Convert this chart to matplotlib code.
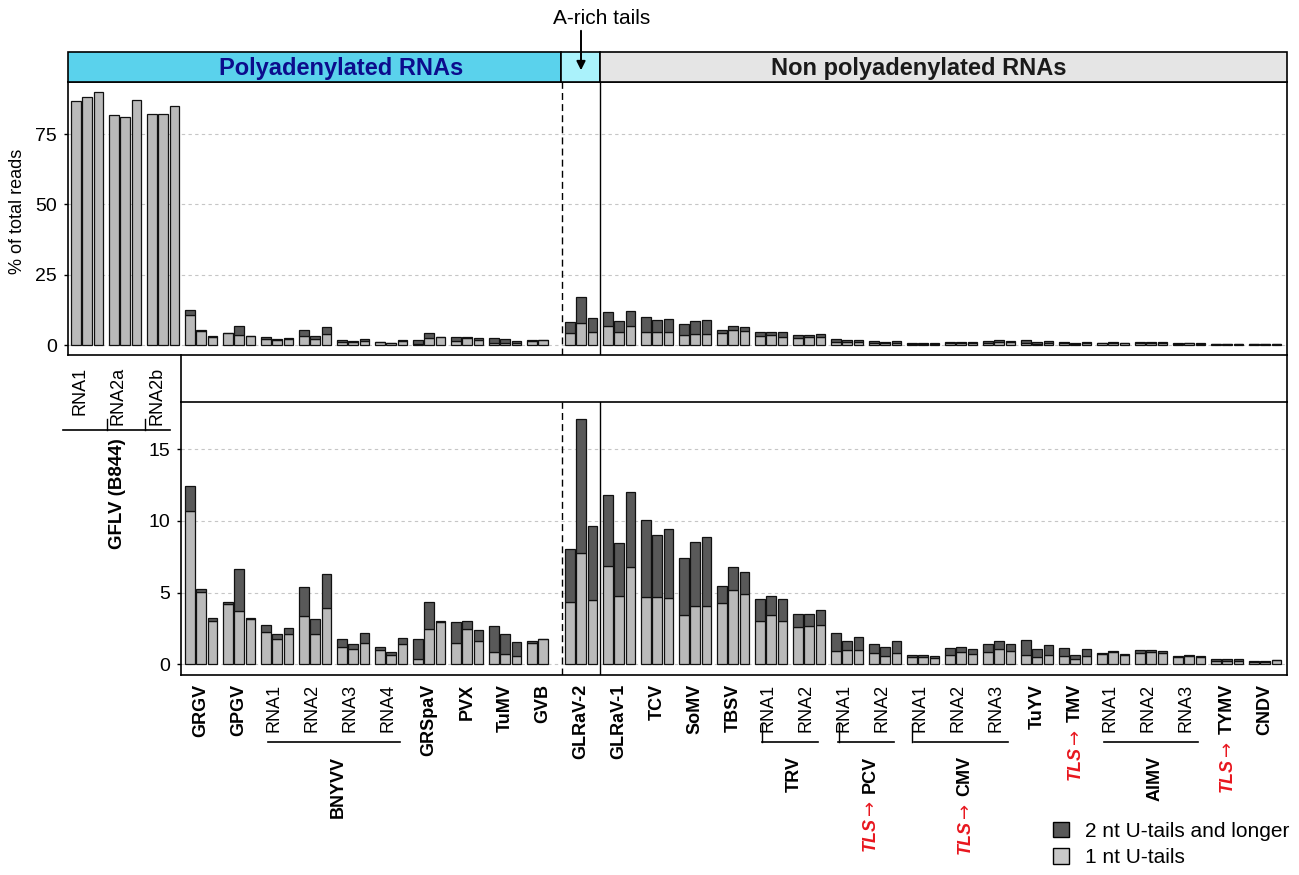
import numpy as np
import matplotlib
matplotlib.use('Agg')
import matplotlib.pyplot as plt
from matplotlib.patches import Rectangle, Patch, FancyArrowPatch
from matplotlib.lines import Line2D

plt.rcParams['font.family'] = ['Liberation Sans', 'DejaVu Sans']

# ---------------- data ----------------
# GFLV (B844) RNAs: total % of reads (shown only in top panel)
gflv_labels = ['RNA1', 'RNA2a', 'RNA2b']
gflv_reads = [[86.8, 88.0, 89.9],
              [81.7, 81.2, 87.1],
              [82.0, 82.2, 84.9]]

virus_labels = ['GRGV', 'GPGV', 'RNA1', 'RNA2', 'RNA3', 'RNA4', 'GRSpaV', 'PVX',
                'TuMV', 'GVB', 'GLRaV-2', 'GLRaV-1', 'TCV', 'SoMV', 'TBSV',
                'RNA1', 'RNA2', 'RNA1', 'RNA2', 'RNA1', 'RNA2', 'RNA3', 'TuYV',
                'TMV', 'RNA1', 'RNA2', 'RNA3', 'TYMV', 'CNDV']

# 1 nt U-tails (% of total reads), three replicates
one_nt = [[10.72, 5.07, 3.00], [4.23, 3.72, 3.16],
          [2.23, 1.74, 2.12], [3.37, 2.12, 3.93], [1.23, 1.05, 1.49], [0.98, 0.65, 1.44],
          [0.40, 2.49, 2.95], [1.51, 2.49, 1.63], [0.86, 0.72, 0.60], [1.47, 1.76, np.nan],
          [4.35, 7.79, 4.51], [6.84, 4.79, 6.79], [4.72, 4.67, 4.60], [3.44, 4.05, 4.05],
          [4.26, 5.21, 4.88], [3.05, 3.42, 3.02], [2.60, 2.70, 2.74], [0.95, 1.00, 0.98],
          [0.77, 0.60, 0.79], [0.51, 0.51, 0.45], [0.67, 0.84, 0.74], [0.88, 1.07, 0.93],
          [0.67, 0.49, 0.63], [0.60, 0.37, 0.56], [0.72, 0.84, 0.67], [0.81, 0.88, 0.77],
          [0.51, 0.56, 0.51], [0.21, 0.23, 0.21], [0.19, 0.19, 0.27]]

# 2 nt U-tails and longer (% of total reads)
two_nt = [[1.70, 0.16, 0.21], [0.14, 2.91, 0.05],
          [0.49, 0.35, 0.39], [2.00, 1.02, 2.35], [0.51, 0.35, 0.67], [0.25, 0.19, 0.40],
          [1.37, 1.86, 0.05], [1.42, 0.51, 0.74], [1.79, 1.37, 0.93], [0.18, 0.03, np.nan],
          [3.70, 9.33, 5.14], [4.95, 3.65, 5.23], [5.37, 4.38, 4.82], [3.98, 4.48, 4.83],
          [1.23, 1.56, 1.54], [1.48, 1.35, 1.51], [0.89, 0.79, 1.03], [1.24, 0.63, 0.90],
          [0.67, 0.59, 0.81], [0.16, 0.16, 0.15], [0.45, 0.37, 0.31], [0.52, 0.58, 0.51],
          [1.03, 0.58, 0.72], [0.54, 0.28, 0.49], [0.09, 0.07, 0.07], [0.17, 0.12, 0.16],
          [0.07, 0.07, 0.07], [0.16, 0.17, 0.16], [0.02, 0.02, 0.03]]

# bracket groups: (name, first index, last index, TLS)
brackets = [('BNYVV', 2, 5, False), ('TRV', 15, 16, False), ('PCV', 17, 18, True),
            ('CMV', 19, 21, True), ('AlMV', 24, 26, False)]
tls_single = ['TMV', 'TYMV']

# ---------------- style ----------------
LIGHT = '#bababa'
DARK = '#595959'
EDGE = '#111111'
TLS_RED = '#e8161e'
W, H = 1299, 875


def fx(px):
    return px / W


def fy(py):
    return 1 - py / H


fig = plt.figure(figsize=(W / 100, H / 100), dpi=100)
axT = fig.add_axes([fx(68), fy(355), fx(1287) - fx(68), fy(82) - fy(355)])
axB = fig.add_axes([fx(181), fy(675), fx(1287) - fx(181), fy(402) - fy(675)])

offs = np.array([-0.297, 0.0, 0.297])
bw = 0.255
ngflv = len(gflv_labels)
one = np.array(one_nt)
two = np.array(two_nt)
xpos = (np.arange(len(virus_labels))[:, None] + ngflv + offs[None, :])
xg = (np.arange(ngflv)[:, None] + offs[None, :])

for ax in (axT, axB):
    ax.bar(xpos.ravel(), one.ravel(), width=bw, color=LIGHT, edgecolor=EDGE, lw=0.9, zorder=3)
    ax.bar(xpos.ravel(), two.ravel(), bottom=one.ravel(), width=bw, color=DARK,
           edgecolor=EDGE, lw=0.9, zorder=3)
    ax.set_axisbelow(True)
    ax.yaxis.grid(True, ls=(0, (3, 3)), color='#c6c6c6', lw=0.8)
    ax.set_xticks([])
    ax.axvline(ngflv + 9.5, color='k', lw=1.0, ls=(0, (5, 3)), zorder=4)
    ax.axvline(ngflv + 10.5, color='k', lw=1.0, zorder=4)
    for s in ax.spines.values():
        s.set_linewidth(1.2)
    ax.tick_params(axis='y', direction='out', length=3, width=1, labelsize=14, pad=5)

axT.bar(xg.ravel(), np.array(gflv_reads).ravel(), width=bw, color=LIGHT,
        edgecolor=EDGE, lw=0.9, zorder=3)

axT.set_xlim(-0.505, 31.574)
axT.set_ylim(-3.55, 93.5)
axT.set_yticks([0, 25, 50, 75])
axB.set_xlim(2.468, 31.574)
axB.set_ylim(-0.747, 18.3)
axB.set_yticks([0, 5, 10, 15])

fig.text(fx(18), fy(211), '% of total reads', rotation=90, ha='center', va='center', fontsize=13)

# ---------------- header ----------------
hdr = [(68, 561, '#5ad2ec'), (561, 600, '#aaf2fb'), (600, 1287, '#e5e5e5')]
for x0, x1, c in hdr:
    fig.add_artist(Rectangle((fx(x0), fy(82)), fx(x1) - fx(x0), fy(52) - fy(82),
                             transform=fig.transFigure, fc=c, ec='k', lw=1.2))
fig.text(fx(341), fy(68), 'Polyadenylated RNAs', ha='center', va='center',
         fontsize=17, weight='bold', color='#0c0c8c')
fig.text(fx(919), fy(68), 'Non polyadenylated RNAs', ha='center', va='center',
         fontsize=17, weight='bold', color='#1a1a1a')
fig.text(fx(602), fy(18), 'A-rich tails', ha='center', va='center', fontsize=15)
fig.add_artist(FancyArrowPatch((fx(581), fy(28)), (fx(581), fy(73)), transform=fig.transFigure,
                               arrowstyle='-|>', mutation_scale=13, color='k', lw=1.4))

# middle box sides
for xx in (181, 1287):
    fig.add_artist(Line2D([fx(xx), fx(xx)], [fy(355), fy(402)], transform=fig.transFigure,
                          color='k', lw=1.2))

# ---------------- GFLV labels ----------------
for px, lab in zip([80, 118, 157], gflv_labels):
    fig.text(fx(px), fy(367), lab, rotation=90, ha='center', va='top', fontsize=13)
fig.add_artist(Line2D([fx(63), fx(170)], [fy(430), fy(430)], transform=fig.transFigure,
                      color='k', lw=1.2))
for px in (107, 145):
    fig.add_artist(Line2D([fx(px), fx(px)], [fy(419), fy(430)], transform=fig.transFigure,
                          color='k', lw=1.0))
fig.text(fx(117), fy(438), 'GFLV (B844)', rotation=90, ha='center', va='top',
         fontsize=13.5, weight='bold')

# ---------------- x labels ----------------
trB = axB.get_xaxis_transform()
hB = 273.0


def ay(py):
    return (675 - py) / hB


def add_tls(t):
    arr = axB.annotate('\u2192', xy=(0.5, 0), xycoords=t, xytext=(0, -5),
                       textcoords='offset points', rotation=90, ha='center', va='top',
                       fontsize=13, weight='normal', color=TLS_RED, family=['DejaVu Sans'])
    axB.annotate('TLS', xy=(0.5, 0), xycoords=arr, xytext=(0, -1),
                 textcoords='offset points', rotation=90, ha='center', va='top',
                 fontsize=13, weight='bold', style='italic', color=TLS_RED)


for i, lab in enumerate(virus_labels):
    g = i + ngflv
    plain = lab.startswith('RNA')
    t = axB.text(g - (0.08 if plain else 0), ay(684), lab, transform=trB, rotation=90,
                 ha='center', va='top', fontsize=13, weight='normal' if plain else 'bold')
    if lab in tls_single:
        add_tls(t)

for name, i0, i1, tls in brackets:
    g0, g1 = i0 + ngflv, i1 + ngflv
    axB.plot([g0 - 0.25, g1 + 0.22], [ay(742), ay(742)], transform=trB, color='k',
             lw=1.2, clip_on=False)
    t = axB.text((g0 + g1) / 2 + 0.1, ay(756), name, transform=trB, rotation=90,
                 ha='center', va='top', fontsize=13, weight='bold')
    if tls:
        add_tls(t)

# small bracket ticks
for gx in (17.76, 19.78, 21.70):
    axB.plot([gx, gx], [ay(724), ay(742)], transform=trB, color='k', lw=1.0, clip_on=False)

# ---------------- legend ----------------
handles = [Patch(fc=DARK, ec='k', lw=1.0), Patch(fc='#c8c8c8', ec='k', lw=1.0)]
fig.legend(handles, ['2 nt U-tails and longer', '1 nt U-tails'], loc='upper left',
           bbox_to_anchor=(fx(1053), fy(822)), frameon=False, fontsize=15,
           handlelength=0.75, handleheight=0.75, handletextpad=0.8, labelspacing=0.35,
           borderpad=0, borderaxespad=0)

fig.savefig('out.png', dpi=100)
